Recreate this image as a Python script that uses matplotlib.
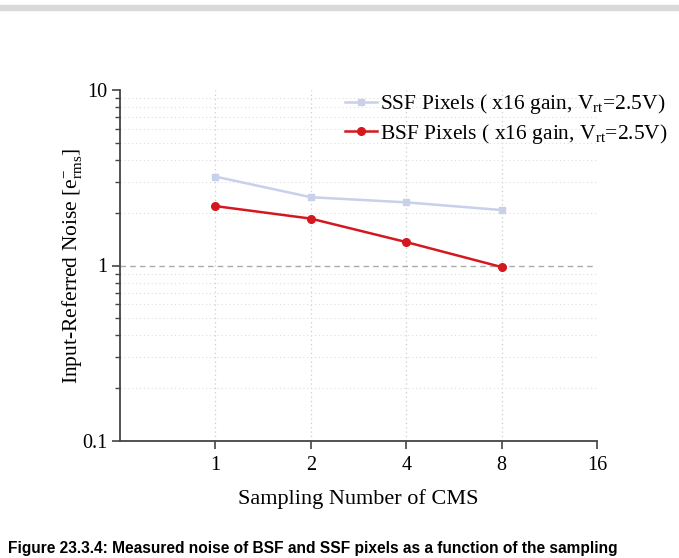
import matplotlib
matplotlib.use('Agg')
import matplotlib.pyplot as plt
from matplotlib.patches import Rectangle
from matplotlib.ticker import FixedLocator, FixedFormatter, LogLocator, NullFormatter

plt.rcParams['font.family'] = ['Liberation Serif', 'DejaVu Serif']
plt.rcParams['mathtext.fontset'] = 'custom'
plt.rcParams['mathtext.rm'] = 'Liberation Serif'
plt.rcParams['mathtext.it'] = 'Liberation Serif'

# data
samples = [1, 2, 4, 8]
ssf_noise = [3.21, 2.45, 2.29, 2.07]
bsf_noise = [2.18, 1.85, 1.36, 0.98]
x_ticks = [1, 2, 4, 8, 16]
x_labels = ['1', '2', '4', '8', '16']
y_ticks = [0.1, 1, 10]
y_labels = ['0.1', '1', '10']

fig = plt.figure(figsize=(6.79, 5.58), dpi=100)
ax = fig.add_axes([120/679, 117/558, 477/679, 351/558])

ax.plot(samples, ssf_noise, color='#c8d0ea', lw=1.8, marker='s', ms=5,
        label=r'SSF Pixels ( x16 gain, V$_{\rm rt}$=2.5V)')
ax.plot(samples, bsf_noise, color='#d41820', lw=1.8, marker='o', ms=5.5,
        label=r'BSF Pixels ( x16 gain, V$_{\rm rt}$=2.5V)')

ax.set_xscale('log', base=2)
ax.set_yscale('log')
ax.set_xlim(0.5, 16)
ax.set_ylim(0.1, 10)

ax.xaxis.set_major_locator(FixedLocator(x_ticks))
ax.xaxis.set_major_formatter(FixedFormatter(x_labels))
ax.xaxis.set_minor_locator(FixedLocator([]))
ax.yaxis.set_major_locator(FixedLocator(y_ticks))
ax.yaxis.set_major_formatter(FixedFormatter(y_labels))
ax.yaxis.set_minor_locator(LogLocator(base=10, subs=range(2, 10)))
ax.yaxis.set_minor_formatter(NullFormatter())

ax.tick_params(axis='both', which='major', labelsize=14.5, direction='out',
               length=6, width=1.2, color='#444444')
ax.tick_params(axis='y', which='minor', direction='out', length=3.5,
               width=1.0, color='#444444')
ax.tick_params(axis='x', pad=5)
ax.tick_params(axis='y', pad=3)

for s in ['top', 'right']:
    ax.spines[s].set_visible(False)
for s in ['left', 'bottom']:
    ax.spines[s].set_linewidth(1.3)
    ax.spines[s].set_color('#444444')

# grid
for xv in x_ticks[:-1]:
    ax.axvline(xv, color='#cccccc', lw=0.9, ls=(0, (1, 2.5)), zorder=0)
ax.yaxis.grid(True, which='minor', color='#dddddd', lw=0.8, ls=(0, (1, 2.5)), zorder=0)
ax.axhline(1, color='#aaaaaa', lw=1.0, ls=(0, (4, 3)), zorder=0)

ax.set_xlabel('Sampling Number of CMS', fontsize=16, labelpad=10)
ax.set_ylabel(r'Input-Referred Noise [e$^{-}_{\rm rms}$]', fontsize=15.5, labelpad=-1.5)

leg = fig.legend(loc='upper right', bbox_to_anchor=(1.012, 0.869), frameon=False,
                 fontsize=15.5, handlelength=1.5, handletextpad=0.15, labelspacing=0.25)

# grey band at the top and caption at the bottom
fig.patches.append(Rectangle((0, 1 - 10/558), 1, 5/558, transform=fig.transFigure,
                             color='#d9d9d9', zorder=0))
fig.text(0.012, 1 - 553/558, 'Figure 23.3.4: Measured noise of BSF and SSF pixels as a function of the sampling',
         fontsize=11.2, fontweight='bold', family='Liberation Sans', va='baseline', ha='left')

fig.savefig('out.png', dpi=100)
